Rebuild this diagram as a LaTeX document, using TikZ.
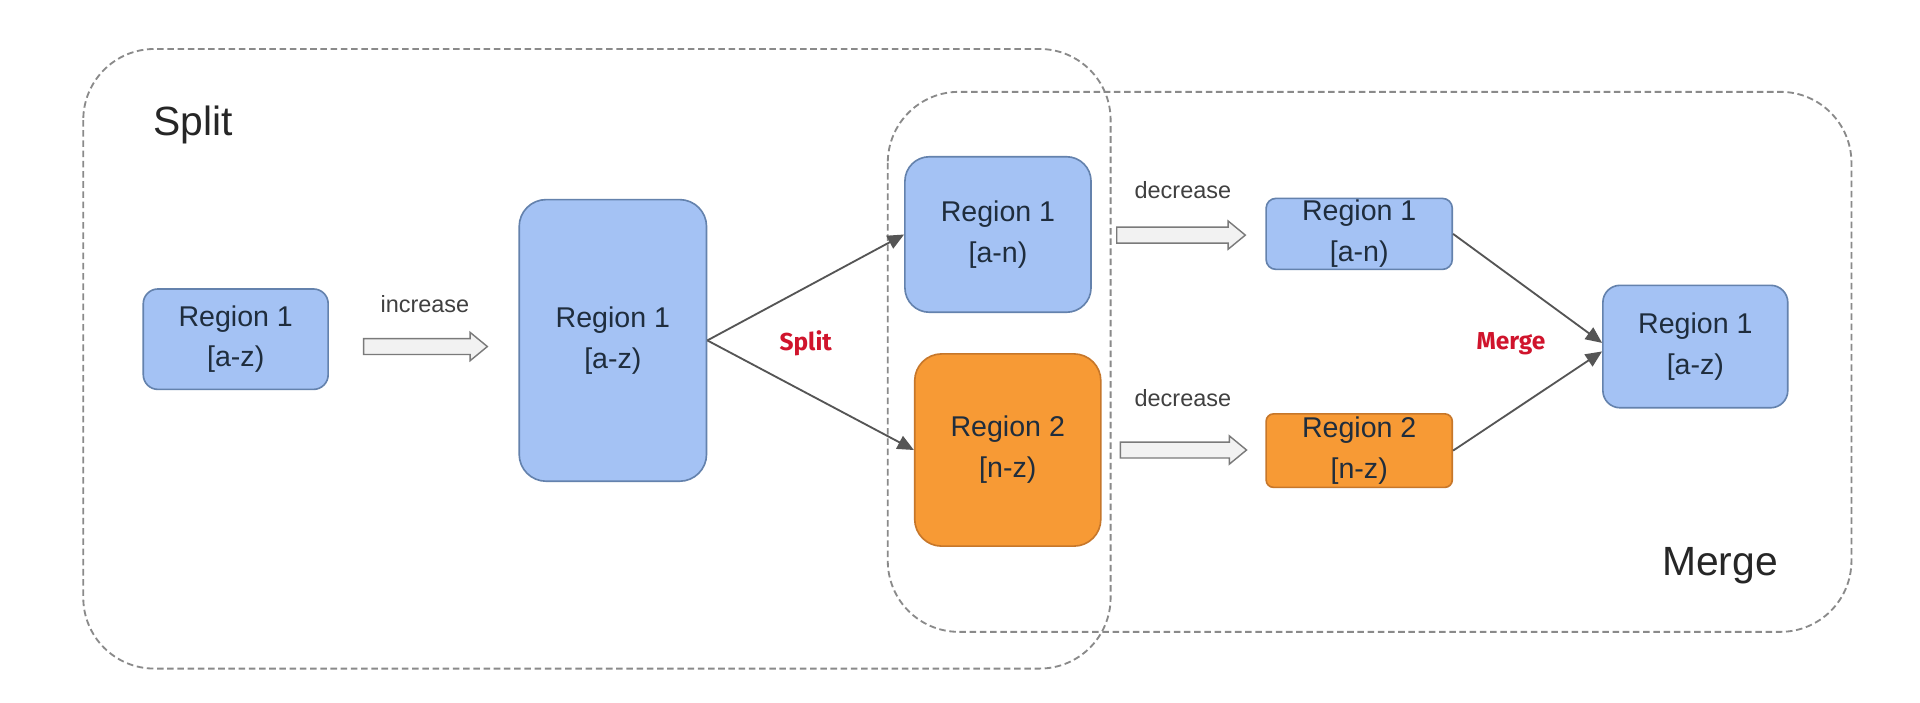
\documentclass[tikz,border=0pt]{standalone}
\usepackage{fontspec}
\setmainfont{Liberation Sans}
\newfontfamily\redfont{Fira Sans}
\usetikzlibrary{arrows.meta}
\definecolor{boxblue}{HTML}{A4C2F4}
\definecolor{boxblueline}{HTML}{6482AD}
\definecolor{boxorange}{HTML}{F79A35}
\definecolor{boxorangeline}{HTML}{C7772A}
\definecolor{textcol}{HTML}{1F2D3D}
\definecolor{conncol}{HTML}{555555}
\definecolor{regioncol}{HTML}{8A8A8A}
\definecolor{opred}{HTML}{D0142C}
\definecolor{hollowfill}{HTML}{F2F2F2}
\definecolor{hollowline}{HTML}{7A7A7A}
\newcommand\myfatarrow[3]{%
  \draw[hollow] (#1,#3+6.5) -- (#2-14,#3+6.5) -- (#2-14,#3+11.5) -- (#2,#3)
    -- (#2-14,#3-11.5) -- (#2-14,#3-6.5) -- (#1,#3-6.5) -- cycle;}
\begin{document}
\begin{tikzpicture}[x=0.6pt,y=-0.6pt,
  region/.style={draw=regioncol, line width=0.9pt, dash pattern=on 3.2pt off 1.8pt, rounded corners=34.8pt},
  rbox/.style={draw=boxblueline, fill=boxblue, line width=0.8pt, text=textcol, align=center,
    font=\fontsize{14}{20}\selectfont, inner sep=0pt},
  obox/.style={rbox, draw=boxorangeline, fill=boxorange},
  lbl/.style={text=black!75, font=\fontsize{11.5}{13}\selectfont, inner sep=0pt},
  biglbl/.style={text=black!85, font=\fontsize{20}{24}\selectfont, inner sep=0pt},
  redlbl/.style={text=opred, font=\redfont\bfseries\fontsize{12}{14}\selectfont, inner sep=0pt},
  conn/.style={draw=conncol, line width=0.9pt, -{Triangle[length=8pt,width=7pt]}},
  hollow/.style={draw=hollowline, fill=hollowfill, line width=0.7pt, line join=miter}]
\useasboundingbox[fill=white] (0,0) rectangle (1568,574);

% regions
\draw[region] (68,40) rectangle (907,546);
\draw[region] (725,75) rectangle (1512,516);
\node[biglbl, anchor=base west] (splitlbl) at (125,111) {Split};
\node[biglbl, anchor=base west] (mergelbl) at (1357,470) {Merge};

% boxes
\node[rbox, minimum width=90.6pt, minimum height=49.2pt, rounded corners=7.2pt] (A) at (192.5,277) {Region 1\\{[a-z)}};
\node[rbox, minimum width=91.8pt, minimum height=138pt, rounded corners=13.2pt] (B) at (500.5,278) {Region 1\\{[a-z)}};
\node[rbox, minimum width=91.2pt, minimum height=76.2pt, rounded corners=12pt] (C) at (815,191.5) {Region 1\\{[a-n)}};
\node[obox, minimum width=91.2pt, minimum height=94.2pt, rounded corners=13.2pt] (D) at (823,367.5) {Region 2\\{[n-z)}};
\node[rbox, minimum width=91.2pt, minimum height=34.8pt, rounded corners=4.8pt] (E) at (1110,191) {Region 1\\{[a-n)}};
\node[obox, minimum width=91.2pt, minimum height=36pt, rounded corners=3.6pt] (F) at (1110,368) {Region 2\\{[n-z)}};
\node[rbox, minimum width=90.6pt, minimum height=60pt, rounded corners=8.4pt] (G) at (1384.5,283) {Region 1\\{[a-z)}};

% hollow arrows and labels
\myfatarrow{297}{398}{283}
\node[lbl] (inc) at (347,248) {increase};
\myfatarrow{912}{1017}{192}
\node[lbl] (dec1) at (966,155) {decrease};
\myfatarrow{915}{1018}{367.5}
\node[lbl] (dec2) at (966,325) {decrease};

% connectors
\draw[conn] (B.east) -- (C.west);
\draw[conn] (B.east) -- (D.west);
\draw[conn] (E.east) -- ([yshift=1.8pt]G.west);
\draw[conn] (F.east) -- ([yshift=-2.4pt]G.west);
\node[redlbl] (splitop) at (658,280) {Split};
\node[redlbl] (mergeop) at (1234,281) {Merge};
\end{tikzpicture}
\end{document}
